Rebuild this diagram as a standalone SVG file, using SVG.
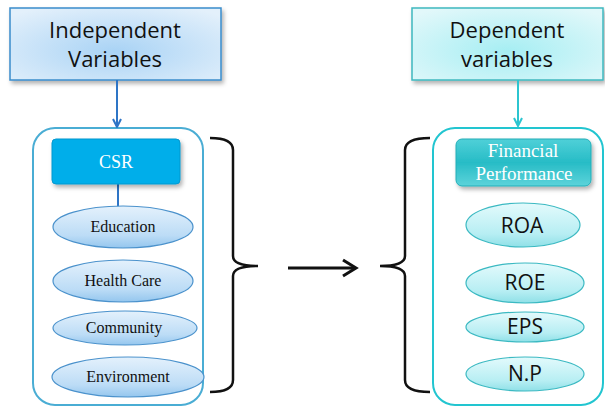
<svg xmlns="http://www.w3.org/2000/svg" width="605" height="407" viewBox="0 0 605 407">
<defs>
<radialGradient id="gInd" cx="0.5" cy="0.6" r="0.7">
<stop offset="0" stop-color="#a9d3f5"/><stop offset="1" stop-color="#e3f0fb"/>
</radialGradient>
<radialGradient id="gDep" cx="0.5" cy="0.6" r="0.7">
<stop offset="0" stop-color="#a6eef3"/><stop offset="1" stop-color="#e2f8fa"/>
</radialGradient>
<linearGradient id="gFin" x1="0" y1="0" x2="0" y2="1">
<stop offset="0" stop-color="#4fd0d8"/><stop offset="0.5" stop-color="#27bcc6"/><stop offset="1" stop-color="#5cd3da"/>
</linearGradient>
<linearGradient id="gEl" x1="0" y1="0" x2="0" y2="1">
<stop offset="0" stop-color="#e4f1fc"/><stop offset="0.7" stop-color="#bcdcf6"/><stop offset="1" stop-color="#94c6ee"/>
</linearGradient>
<linearGradient id="gEr" x1="0" y1="0" x2="0" y2="1">
<stop offset="0" stop-color="#e3fafc"/><stop offset="0.7" stop-color="#b7eef3"/><stop offset="1" stop-color="#8fe0e7"/>
</linearGradient>
<filter id="sh" x="-10%" y="-10%" width="130%" height="140%">
<feDropShadow dx="2" dy="3" stdDeviation="2" flood-color="#000" flood-opacity="0.3"/>
</filter>
<marker id="aBlue" viewBox="0 0 10 10" refX="9" refY="5" markerWidth="5" markerHeight="5" orient="auto"><path d="M1 1 L9 5 L1 9" fill="none" stroke="#2e75c6" stroke-width="2"/></marker>
<marker id="aCyan" viewBox="0 0 10 10" refX="9" refY="5" markerWidth="5" markerHeight="5" orient="auto"><path d="M1 1 L9 5 L1 9" fill="none" stroke="#2cc5d0" stroke-width="2"/></marker>
</defs>
<style>
.top{font-family:"Open Sans",sans-serif;font-size:22px;fill:#111;text-anchor:middle}
.lt{font-family:"Liberation Serif",serif;font-size:16px;fill:#111;text-anchor:middle}
.rt{font-family:"Open Sans",sans-serif;font-size:21px;fill:#111;text-anchor:middle}
.el{fill:url(#gEl);stroke:#4b92cc;stroke-width:1.2}
.er{fill:url(#gEr);stroke:#3bb9c2;stroke-width:1.2}
.br{fill:none;stroke:#111;stroke-width:2.5}
</style>
<rect width="605" height="407" fill="#fff"/>

<g id="containers">
<rect x="33" y="128" width="170" height="277" rx="22" fill="none" stroke="#4aadd4" stroke-width="2"/>
<rect x="433" y="128" width="170" height="277" rx="22" fill="none" stroke="#22c5d0" stroke-width="2"/>
</g>

<g id="independent">
<rect x="10" y="8" width="211" height="72" fill="url(#gInd)" stroke="#3a8ccb" stroke-width="1.5" filter="url(#sh)"/>
<text class="top" x="115" y="38">Independent</text>
<text class="top" x="115" y="67">Variables</text>
</g>
<g id="dependent">
<rect x="412" y="8" width="191" height="72" fill="url(#gDep)" stroke="#3fb8bf" stroke-width="1.5" filter="url(#sh)"/>
<text class="top" x="507" y="38">Dependent</text>
<text class="top" x="507" y="67">variables</text>
</g>

<g id="connectors">
<line x1="117" y1="80" x2="117" y2="127" stroke="#2e75c6" stroke-width="2" marker-end="url(#aBlue)"/>
<line x1="518" y1="80" x2="518" y2="126" stroke="#2cc5d0" stroke-width="2" marker-end="url(#aCyan)"/>
<line x1="118" y1="184" x2="118" y2="207" stroke="#2e75c6" stroke-width="2"/>
<path class="br" d="M210 138 Q233 138 233 150 L233 256 Q233 266 258 266 Q233 266 233 276 L233 380 Q233 392 210 392"/>
<path class="br" d="M430 138 Q405 138 405 150 L405 256 Q405 266 380 266 Q405 266 405 276 L405 380 Q405 392 430 392"/>
<line x1="288" y1="268" x2="355" y2="268" stroke="#111" stroke-width="3"/>
<path d="M343 260 L356 268 L343 276" fill="none" stroke="#111" stroke-width="3"/>
</g>

<g id="csr">
<rect x="52" y="139" width="128" height="45" rx="4" fill="#00aeea" stroke="#0a98cf" stroke-width="1" filter="url(#sh)"/>
<text x="116" y="168" font-family="Liberation Serif, serif" font-size="18" fill="#fff" text-anchor="middle">CSR</text>
</g>
<g id="education"><ellipse class="el" cx="123" cy="227" rx="70" ry="21"/><text class="lt" x="123" y="232">Education</text></g>
<g id="healthcare"><ellipse class="el" cx="123" cy="281" rx="70" ry="21"/><text class="lt" x="123" y="286">Health Care</text></g>
<g id="community"><ellipse class="el" cx="125" cy="328" rx="72" ry="17"/><text class="lt" x="124" y="333">Community</text></g>
<g id="environment"><ellipse class="el" cx="128" cy="377" rx="76" ry="20"/><text class="lt" x="128" y="382">Environment</text></g>

<g id="financial">
<rect x="456" y="139" width="135" height="47" rx="6" fill="url(#gFin)" stroke="#22aeb8" stroke-width="1" filter="url(#sh)"/>
<text x="523" y="157" font-family="Liberation Serif, serif" font-size="19" fill="#fff" text-anchor="middle">Financial</text>
<text x="524" y="180" font-family="Liberation Serif, serif" font-size="19" fill="#fff" text-anchor="middle">Performance</text>
</g>
<g id="roa"><ellipse class="er" cx="523" cy="225" rx="57" ry="22"/><text class="rt" x="522" y="233">ROA</text></g>
<g id="roe"><ellipse class="er" cx="525" cy="283" rx="59" ry="20"/><text class="rt" x="525" y="290">ROE</text></g>
<g id="eps"><ellipse class="er" cx="525" cy="327" rx="59" ry="15"/><text class="rt" x="525" y="334">EPS</text></g>
<g id="np"><ellipse class="er" cx="525" cy="374" rx="59" ry="17"/><text class="rt" x="525" y="381">N.P</text></g>
</svg>
